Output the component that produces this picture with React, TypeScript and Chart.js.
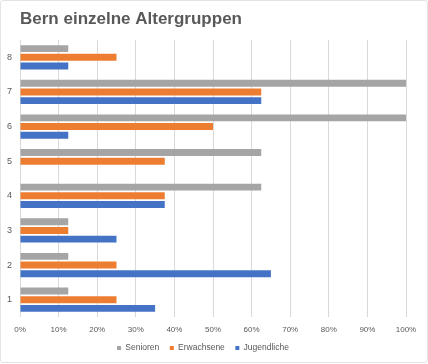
import React, { useEffect, useRef } from "react";
import { Chart, registerables } from "chart.js";

Chart.register(...registerables);

const title = "Bern einzelne Altergruppen";
const categories = ["1", "2", "3", "4", "5", "6", "7", "8"];
const senioren = [12.5, 12.5, 12.5, 62.5, 62.5, 100, 100, 12.5];
const erwachsene = [25, 25, 12.5, 37.5, 37.5, 50, 62.5, 25];
const jugendliche = [35, 65, 25, 37.5, 0, 12.5, 62.5, 12.5];
const seriesNames = ["Senioren", "Erwachsene", "Jugendliche"];
const seriesColors = ["#A5A5A5", "#ED7D31", "#4472C4"];

const TEXT = "#595959";
const FONT = "'Liberation Sans', Arial, Helvetica, sans-serif";

const titlePlugin = {
  id: "leftTitle",
  afterDraw(chart: any) {
    const ctx = chart.ctx;
    ctx.save();
    ctx.fillStyle = TEXT;
    ctx.font = `bold 17px ${FONT}`;
    ctx.textAlign = "left";
    ctx.textBaseline = "middle";
    ctx.fillText(title, chart.chartArea.left, 19.2);
    ctx.restore();
  },
};

export default function App() {
  const ref = useRef<HTMLCanvasElement | null>(null);

  useEffect(() => {
    if (!ref.current) return;
    const rev = <T,>(a: T[]) => a.slice().reverse();
    const allSeries = [senioren, erwachsene, jugendliche];
    const chart = new Chart(ref.current, {
      type: "bar",
      data: {
        labels: rev(categories),
        datasets: allSeries.map((s, i) => ({
          label: seriesNames[i],
          data: rev(s),
          backgroundColor: seriesColors[i],
          borderWidth: 0,
          categoryPercentage: 0.75,
          barPercentage: 0.8,
        })),
      },
      plugins: [titlePlugin],
      options: {
        indexAxis: "y",
        responsive: false,
        animation: false,
        layout: { padding: { left: 0, right: 22, top: 40, bottom: 1.75 } },
        plugins: {
          title: { display: false },
          legend: {
            position: "bottom",
            labels: {
              color: TEXT,
              font: { family: FONT, size: 8.5 },
              boxWidth: 4,
              boxHeight: 4,
              padding: 10.5,
            },
          },
          tooltip: { enabled: false },
        },
        scales: {
          x: {
            min: 0,
            max: 100,
            ticks: {
              stepSize: 10,
              color: TEXT,
              font: { family: FONT, size: 8 },
              padding: 8,
              callback: (v: any) => v + "%",
            },
            grid: { color: "#D9D9D9", lineWidth: 1, drawTicks: false },
            border: { display: false },
            afterFit: (scale: any) => {
              scale.height = 16.25;
            },
          },
          y: {
            ticks: {
              color: TEXT,
              font: { family: FONT, size: 9 },
              padding: 8,
            },
            grid: { display: false, drawTicks: false },
            border: { display: false },
            afterFit: (scale: any) => {
              scale.width = 20;
            },
          },
        },
      },
    });
    return () => chart.destroy();
  }, []);

  return (
    <div
      style={{
        position: "absolute",
        left: 0,
        top: 0,
        width: 428,
        height: 364,
        background: "#fff",
      }}
    >
      <div
        style={{
          position: "absolute",
          left: 0,
          top: 0,
          width: 428,
          height: 363,
          boxSizing: "border-box",
          border: "1px solid #E3E3E3",
          borderRadius: 3,
        }}
      />
      <canvas
        ref={ref}
        width={428}
        height={364}
        style={{ position: "absolute", left: 0, top: 0 }}
      />
    </div>
  );
}
